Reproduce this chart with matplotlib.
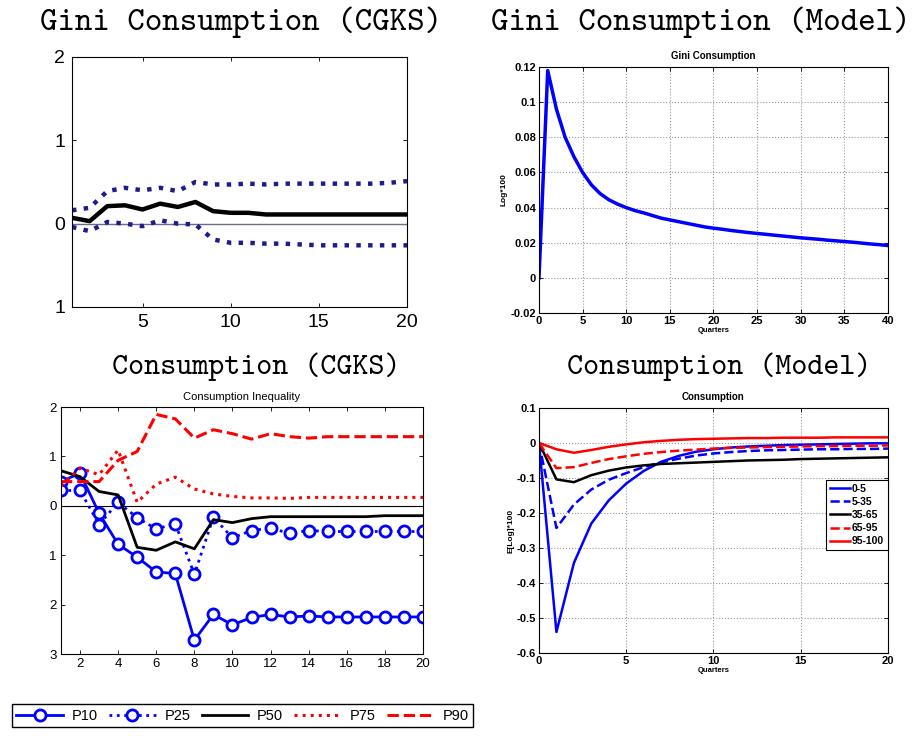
import matplotlib.pyplot as plt

# Gini consumption (CGKS): median and bands, quarters 1..20
gini_q = list(range(1, 21))
gini_mid = [0.07, 0.03, 0.21, 0.22, 0.17, 0.24, 0.20, 0.26, 0.15, 0.13,
            0.13, 0.11, 0.11, 0.11, 0.11, 0.11, 0.11, 0.11, 0.11, 0.11]
gini_hi = [0.16, 0.19, 0.39, 0.43, 0.40, 0.43, 0.39, 0.50, 0.47, 0.47,
           0.48, 0.47, 0.48, 0.48, 0.48, 0.48, 0.48, 0.48, 0.49, 0.51]
gini_lo = [-0.04, -0.09, 0.02, 0.00, -0.03, 0.04, 0.00, -0.01, -0.19, -0.23,
           -0.23, -0.24, -0.24, -0.25, -0.26, -0.26, -0.26, -0.26, -0.26, -0.26]

# Gini consumption (model), quarters 0..40
model_q = list(range(0, 41))
model_gini = [0.0, 0.118, 0.096, 0.080, 0.069, 0.060, 0.053, 0.048, 0.0445, 0.042,
              0.040, 0.0383, 0.037, 0.0355, 0.034, 0.033, 0.032, 0.031, 0.030, 0.029,
              0.0283, 0.0277, 0.027, 0.0264, 0.0258, 0.0253, 0.0248, 0.0243, 0.0238, 0.0233,
              0.0228, 0.0224, 0.022, 0.0215, 0.0211, 0.0207, 0.0203, 0.0198, 0.0193, 0.0189,
              0.0184]

# Consumption (CGKS) percentiles, quarters 1..20
pct_q = list(range(1, 21))
p10 = [0.49, 0.66, -0.15, -0.78, -1.04, -1.34, -1.37, -2.72, -2.20, -2.41,
       -2.26, -2.20, -2.25, -2.23, -2.25, -2.25, -2.25, -2.25, -2.25, -2.25]
p25 = [0.31, 0.31, -0.38, 0.07, -0.24, -0.47, -0.36, -1.39, -0.23, -0.65,
       -0.50, -0.45, -0.56, -0.50, -0.52, -0.52, -0.52, -0.52, -0.52, -0.52]
p50 = [0.71, 0.59, 0.29, 0.22, -0.84, -0.90, -0.73, -0.87, -0.28, -0.34,
       -0.26, -0.22, -0.22, -0.22, -0.22, -0.22, -0.22, -0.20, -0.20, -0.20]
p75 = [0.40, 0.76, 0.63, 1.13, 0.07, 0.44, 0.58, 0.34, 0.24, 0.19,
       0.16, 0.16, 0.15, 0.17, 0.17, 0.17, 0.17, 0.17, 0.17, 0.17]
p90 = [0.49, 0.49, 0.49, 0.92, 1.10, 1.85, 1.76, 1.37, 1.54, 1.46,
       1.35, 1.46, 1.40, 1.37, 1.40, 1.40, 1.40, 1.40, 1.40, 1.40]

# Consumption (model) by wealth group, quarters 0..20
cons_q = list(range(0, 21))
c_0_5 = [0, -0.54, -0.343, -0.23, -0.164, -0.116, -0.08, -0.054, -0.037, -0.025,
         -0.018, -0.013, -0.010, -0.008, -0.006, -0.005, -0.004, -0.003, -0.002, -0.001, -0.001]
c_5_35 = [0, -0.243, -0.176, -0.133, -0.105, -0.086, -0.069, -0.055, -0.045, -0.036,
          -0.030, -0.026, -0.023, -0.021, -0.020, -0.019, -0.018, -0.018, -0.017, -0.017, -0.016]
c_35_65 = [0, -0.104, -0.112, -0.092, -0.079, -0.070, -0.064, -0.060, -0.058, -0.056,
           -0.054, -0.052, -0.050, -0.049, -0.048, -0.046, -0.045, -0.044, -0.043, -0.042, -0.041]
c_65_95 = [0, -0.072, -0.069, -0.057, -0.046, -0.038, -0.031, -0.026, -0.022, -0.019,
           -0.016, -0.014, -0.013, -0.012, -0.011, -0.010, -0.009, -0.009, -0.008, -0.008, -0.007]
c_95_100 = [0, -0.018, -0.028, -0.020, -0.011, -0.004, 0.002, 0.006, 0.009, 0.011,
            0.012, 0.013, 0.014, 0.014, 0.015, 0.015, 0.015, 0.016, 0.016, 0.016, 0.016]

plt.rcParams['font.family'] = ['Liberation Sans', 'DejaVu Sans']
mono = ['cmtt10', 'Liberation Mono']  # typewriter face bundled with matplotlib

fig = plt.figure(figsize=(9.14, 7.36), dpi=100)


def matlab_box(ax):
    ax.tick_params(direction='in', top=True, right=True, length=3, width=0.6)
    for s in ax.spines.values():
        s.set_linewidth(0.8)


# --- top left
ax1 = fig.add_axes([0.0788, 0.5829, 0.3665, 0.3397])
ax1.axhline(0, color='#6a6a8a', lw=1)
ax1.plot(gini_q, gini_hi, color='#1c1c8c', lw=3.2, ls=':')
ax1.plot(gini_q, gini_lo, color='#1c1c8c', lw=3.2, ls=':')
ax1.plot(gini_q, gini_mid, color='black', lw=3.2)
ax1.set_xlim(1, 20)
ax1.set_ylim(-1, 2)
ax1.set_xticks([5, 10, 15, 20])
ax1.set_yticks([2, 1, 0, -1])
ax1.set_yticklabels(['2', '1', '0', '1'])
matlab_box(ax1)
ax1.tick_params(labelsize=14, pad=5)

# --- top right
ax2 = fig.add_axes([0.5897, 0.5747, 0.3818, 0.3342])
ax2.plot(model_q, model_gini, color='blue', lw=2.5)
ax2.set_xlim(0, 40)
ax2.set_ylim(-0.02, 0.12)
ax2.set_xticks(range(0, 41, 5))
ax2.set_yticks([-0.02, 0, 0.02, 0.04, 0.06, 0.08, 0.1, 0.12])
ax2.set_yticklabels(['-0.02', '0', '0.02', '0.04', '0.06', '0.08', '0.1', '0.12'])
ax2.grid(True, ls=':', color='#999999', lw=0.8)
matlab_box(ax2)
ax2.tick_params(labelsize=8, pad=2)
for lab in ax2.get_xticklabels() + ax2.get_yticklabels():
    lab.set_fontweight('bold')
ax2.set_title('Gini Consumption', fontsize=7, fontweight='bold', pad=6)
ax2.set_xlabel('Quarters', fontsize=5.5, fontweight='bold', labelpad=1)
ax2.set_ylabel('Log*100', fontsize=6, fontweight='bold', labelpad=2)

# --- bottom left
ax3 = fig.add_axes([0.0667, 0.1114, 0.3961, 0.3356])
ax3.axhline(0, color='black', lw=0.8)
l10, = ax3.plot(pct_q, p10, color='blue', lw=2, ls='-', marker='o', ms=8,
                mfc='white', mew=2, label='P10')
l25, = ax3.plot(pct_q, p25, color='blue', lw=2, ls=':', marker='o', ms=8,
                mfc='white', mew=2, label='P25')
l50, = ax3.plot(pct_q, p50, color='black', lw=2, label='P50')
l75, = ax3.plot(pct_q, p75, color='red', lw=2.2, ls=':', label='P75')
l90, = ax3.plot(pct_q, p90, color='red', lw=2.2, ls='--', label='P90')
ax3.set_xlim(1, 20)
ax3.set_ylim(-3, 2)
ax3.set_xticks(range(2, 21, 2))
ax3.set_yticks([2, 1, 0, -1, -2, -3])
ax3.set_yticklabels(['2', '1', '0', '1', '2', '3'])
matlab_box(ax3)
ax3.tick_params(labelsize=9.5, pad=3)
ax3.set_title('Consumption Inequality', fontsize=8, pad=5)

# --- bottom right
ax4 = fig.add_axes([0.5897, 0.1128, 0.3818, 0.3329])
ax4.plot(cons_q, c_0_5, color='blue', lw=1.8, label='0-5')
ax4.plot(cons_q, c_5_35, color='blue', lw=1.8, ls='--', label='5-35')
ax4.plot(cons_q, c_35_65, color='black', lw=1.8, label='35-65')
ax4.plot(cons_q, c_65_95, color='red', lw=1.8, ls='--', label='65-95')
ax4.plot(cons_q, c_95_100, color='red', lw=1.8, label='95-100')
ax4.set_xlim(0, 20)
ax4.set_ylim(-0.6, 0.1)
ax4.set_xticks([0, 5, 10, 15, 20])
ax4.set_yticks([-0.6, -0.5, -0.4, -0.3, -0.2, -0.1, 0, 0.1])
ax4.set_yticklabels(['-0.6', '-0.5', '-0.4', '-0.3', '-0.2', '-0.1', '0', '0.1'])
ax4.grid(True, ls=':', color='#999999', lw=0.8)
matlab_box(ax4)
ax4.tick_params(labelsize=8, pad=2)
for lab in ax4.get_xticklabels() + ax4.get_yticklabels():
    lab.set_fontweight('bold')
ax4.set_title('Consumption', fontsize=7, fontweight='bold', pad=6)
ax4.set_xlabel('Quarters', fontsize=5.5, fontweight='bold', labelpad=1)
ax4.set_ylabel('E[Log]*100', fontsize=6, fontweight='bold', labelpad=2)
leg4 = ax4.legend(loc='center right', bbox_to_anchor=(1.0, 0.563), fancybox=False,
                  edgecolor='black', framealpha=1, prop={'size': 7.5, 'weight': 'bold'},
                  handlelength=1.9, handletextpad=0.15, borderpad=0.4, labelspacing=0.3,
                  borderaxespad=0)
leg4.get_frame().set_linewidth(0.8)

# --- panel titles
fig.text(0.264, 0.970, 'Gini Consumption (CGKS)', family=mono, fontsize=24,
         ha='center', va='center')
fig.text(0.767, 0.970, 'Gini Consumption (Model)', family=mono, fontsize=24,
         ha='center', va='center')
fig.text(0.2806, 0.5014, 'Consumption (CGKS)', family=mono, fontsize=22,
         ha='center', va='center')
fig.text(0.787, 0.5014, 'Consumption (Model)', family=mono, fontsize=22,
         ha='center', va='center')

# --- shared legend at the bottom
leg = fig.legend(handles=[l10, l25, l50, l75, l90], loc='lower left',
                 bbox_to_anchor=(0.0131, 0.0122, 0.5044, 0.0408), mode='expand',
                 ncol=5, fancybox=False, edgecolor='black', framealpha=1,
                 fontsize=10.5, handlelength=3.2, handletextpad=0.6,
                 borderaxespad=0, borderpad=0.3, columnspacing=0.6)
leg.get_frame().set_linewidth(1)

fig.savefig('out.png', dpi=100)
